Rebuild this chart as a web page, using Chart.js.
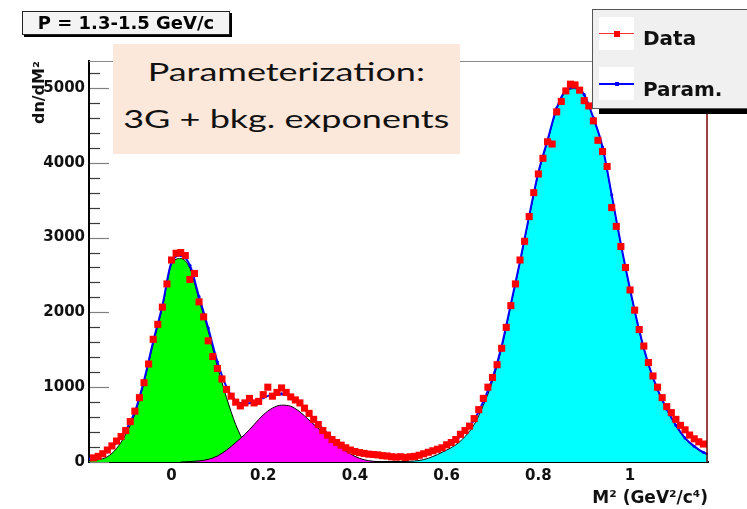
<!DOCTYPE html>
<html>
<head>
<meta charset="utf-8">
<script src="https://cdn.jsdelivr.net/npm/chart.js@4.4.0/dist/chart.umd.min.js"></script>
<style>
  html, body { margin: 0; padding: 0; background: #fff; }
  #wrap { position: relative; width: 747px; height: 509px; overflow: hidden; }
  #massChart { position: absolute; left: 0; top: 0; }
  #momentum {
    position: absolute; left: 22px; top: 11px; width: 206px; height: 22px;
    background: #f4f4f4; border: 1px solid #222; box-shadow: 2px 2px 0 #000;
    font: bold 18px "DejaVu Sans"; line-height: 22px; text-align: center; color: #000;
  }
  #note {
    position: absolute; left: 113px; top: 44px; width: 347px; height: 110px;
    background: #fce8da; text-align: center; color: #111;
    font: 25px Lato; line-height: 47px; padding-top: 4px; box-sizing: border-box;
  }
  #note span { display: inline-block; transform: scaleX(1.44); }
  #legend {
    position: absolute; left: 592px; top: 9px; width: 200px; height: 98px;
    background: #f0f0f0; border: 1px solid #555; box-shadow: 7px 5px 0 #000;
    font: bold 20px "DejaVu Sans"; color: #111;
  }
  .sym { position: absolute; left: 6px; width: 35px; height: 33px; background: #fff; }
  .sym .ln { position: absolute; left: 0; right: 0; }
  .sym .mk { position: absolute; }
  .lab { position: absolute; left: 50px; line-height: 24px; }
</style>
</head>
<body>
<div id="wrap">
  <canvas id="massChart" width="747" height="509"></canvas>
  <div id="momentum">P = 1.3-1.5 GeV/c</div>
  <div id="note"><span>Parameterization:</span><br><span>3G + bkg. exponents</span></div>
  <div id="legend">
    <div class="sym" style="top:7px"><div class="ln" style="top:16px;height:1px;background:#ff3030"></div><div class="mk" style="left:15px;top:14px;width:6px;height:6px;background:#f00"></div></div>
    <div class="lab" style="top:16px">Data</div>
    <div class="sym" style="top:57px"><div class="ln" style="top:16px;height:2px;background:#0000ff"></div><div class="mk" style="left:16px;top:15px;width:4px;height:4px;background:#0000ff"></div></div>
    <div class="lab" style="top:67px">Param.</div>
  </div>
</div>
<script>
// measured M^2 spectrum (counts per 0.01 GeV^2/c^4 bin)
const dataM2 = [
  -0.17, -0.16, -0.15, -0.14, -0.13, -0.12, -0.11, -0.10, -0.09, -0.08,
  -0.07, -0.06, -0.05, -0.04, -0.03, -0.02, -0.01, 0.00, 0.01, 0.02,
  0.03, 0.04, 0.05, 0.06, 0.07, 0.08, 0.09, 0.10, 0.11, 0.12,
  0.13, 0.14, 0.15, 0.16, 0.17, 0.18, 0.19, 0.20, 0.21, 0.22,
  0.23, 0.24, 0.25, 0.26, 0.27, 0.28, 0.29, 0.30, 0.31, 0.32,
  0.33, 0.34, 0.35, 0.36, 0.37, 0.38, 0.39, 0.40, 0.41, 0.42,
  0.43, 0.44, 0.45, 0.46, 0.47, 0.48, 0.49, 0.50, 0.51, 0.52,
  0.53, 0.54, 0.55, 0.56, 0.57, 0.58, 0.59, 0.60, 0.61, 0.62,
  0.63, 0.64, 0.65, 0.66, 0.67, 0.68, 0.69, 0.70, 0.71, 0.72,
  0.73, 0.74, 0.75, 0.76, 0.77, 0.78, 0.79, 0.80, 0.81, 0.82,
  0.83, 0.84, 0.85, 0.86, 0.87, 0.88, 0.89, 0.90, 0.91, 0.92,
  0.93, 0.94, 0.95, 0.96, 0.97, 0.98, 0.99, 1.00, 1.01, 1.02,
  1.03, 1.04, 1.05, 1.06, 1.07, 1.08, 1.09, 1.10, 1.11, 1.12,
  1.13, 1.14, 1.15, 1.16
];
const dataCounts = [
  55, 75, 110, 160, 215, 280, 340, 420, 540, 680,
  860, 1060, 1310, 1640, 1840, 2070, 2380, 2700, 2790, 2800,
  2760, 2440, 2520, 2140, 1940, 1620, 1410, 1250, 1110, 970,
  880, 800, 750, 790, 850, 790, 810, 900, 1000, 880,
  930, 990, 930, 870, 830, 790, 720, 650, 570, 500,
  420, 360, 300, 260, 225, 190, 160, 140, 125, 115,
  105, 100, 95, 85, 80, 70, 65, 70, 60, 70,
  75, 90, 110, 130, 150, 170, 190, 230, 260, 300,
  370, 420, 480, 580, 700, 850, 1000, 1130, 1300, 1520,
  1800, 2090, 2380, 2700, 2950, 3280, 3600, 3850, 4060, 4280,
  4250, 4680, 4820, 4960, 5050, 5040, 4970, 4830, 4760, 4560,
  4300, 4150, 3950, 3400, 3150, 2880, 2600, 2300, 2030, 1770,
  1550, 1330, 1150, 1000, 860, 740, 660, 570, 490, 430,
  360, 310, 270, 240
];

// full parameterization (3 gaussians + background)
const paramM2 = [
  -0.18, -0.16, -0.14, -0.12, -0.10, -0.08, -0.06, -0.04, -0.02, 0.00,
  0.02, 0.04, 0.06, 0.08, 0.10, 0.12, 0.14, 0.16, 0.18, 0.20,
  0.22, 0.24, 0.26, 0.28, 0.30, 0.32, 0.34, 0.36, 0.38, 0.40,
  0.42, 0.44, 0.46, 0.48, 0.50, 0.52, 0.54, 0.56, 0.58, 0.60,
  0.62, 0.64, 0.66, 0.68, 0.70, 0.72, 0.74, 0.76, 0.78, 0.80,
  0.82, 0.84, 0.86, 0.88, 0.90, 0.92, 0.94, 0.96, 0.98, 1.00,
  1.02, 1.04, 1.06, 1.08, 1.10, 1.12, 1.14, 1.16, 1.18
];
const paramFit = [
  40, 70, 140, 260, 420, 670, 1090, 1610, 2090, 2670,
  2760, 2630, 2210, 1790, 1340, 1000, 820, 780, 800, 860,
  900, 910, 870, 770, 640, 510, 380, 270, 190, 130,
  100, 85, 75, 65, 65, 70, 85, 115, 160, 215,
  290, 400, 560, 810, 1120, 1550, 2110, 2680, 3290, 3870,
  4300, 4730, 4970, 5010, 4910, 4600, 4210, 3570, 2910, 2310,
  1760, 1310, 970, 710, 490, 320, 210, 130, 90
];

// single components
const pionM2 = [
  -0.18, -0.16, -0.14, -0.12, -0.10, -0.08, -0.06, -0.04, -0.02, 0.00,
  0.02, 0.04, 0.06, 0.08, 0.10, 0.12, 0.14, 0.16, 0.18, 0.20,
  0.22, 0.24, 0.26
];
const pionFit = [
  15, 30, 70, 180, 370, 640, 1060, 1580, 2060, 2640,
  2720, 2590, 2170, 1750, 1280, 860, 500, 250, 120, 60,
  25, 10, 0
];
const kaonM2 = [
  0.02, 0.04, 0.06, 0.08, 0.10, 0.12, 0.14, 0.16, 0.18, 0.20,
  0.22, 0.24, 0.26, 0.28, 0.30, 0.32, 0.34, 0.36, 0.38, 0.40,
  0.42, 0.44, 0.46
];
const kaonFit = [
  0, 5, 15, 35, 80, 160, 260, 370, 500, 630,
  720, 760, 745, 670, 560, 450, 340, 240, 150, 75,
  30, 10, 0
];
const protonM2 = [
  0.48, 0.50, 0.52, 0.54, 0.56, 0.58, 0.60, 0.62, 0.64, 0.66,
  0.68, 0.70, 0.72, 0.74, 0.76, 0.78, 0.80, 0.82, 0.84, 0.86,
  0.88, 0.90, 0.92, 0.94, 0.96, 0.98, 1.00, 1.02, 1.04, 1.06,
  1.08, 1.10, 1.12, 1.14, 1.16, 1.18
];
const protonFit = [
  0, 5, 10, 20, 50, 100, 160, 230, 340, 500,
  760, 1080, 1520, 2090, 2660, 3270, 3850, 4280, 4710, 4950,
  4990, 4900, 4590, 4200, 3560, 2900, 2300, 1750, 1300, 960,
  700, 480, 310, 200, 120, 80
];

// axis ticks
const xTickValues = [0, 0.2, 0.4, 0.6, 0.8, 1];
const yTickValues = [
  0, 200, 400, 600, 800, 1000, 1200, 1400, 1600, 1800,
  2000, 2200, 2400, 2600, 2800, 3000, 3200, 3400, 3600, 3800,
  4000, 4200, 4400, 4600, 4800, 5000, 5200
];
const yLabelValues = [0, 1000, 2000, 3000, 4000, 5000];

const xMin = -0.18, xMax = 1.17;
const yMax = 5360;

function points(xs, ys) {
  return xs.map((x, i) => ({ x: x, y: ys[i] }));
}

function component(data, color, order) {
  return {
    data: data,
    borderColor: '#000',
    borderWidth: 1,
    backgroundColor: color,
    fill: 'origin',
    pointRadius: 0,
    cubicInterpolationMode: 'monotone',
    order: order
  };
}

// inward tick marks on the y axis: long at labelled values, short otherwise
const yTickMarks = {
  id: 'yTickMarks',
  beforeDatasetsDraw(chart) {
    const scale = chart.scales.y;
    const left = chart.chartArea.left;
    const ctx = chart.ctx;
    ctx.save();
    ctx.lineWidth = 1.2;
    scale.ticks.forEach(t => {
      const major = yLabelValues.includes(t.value);
      const py = Math.round(scale.getPixelForValue(t.value)) + 0.5;
      ctx.strokeStyle = major ? '#808080' : '#3a3a3a';
      ctx.beginPath();
      ctx.moveTo(left + 1, py);
      ctx.lineTo(left + (major ? 20 : 11), py);
      ctx.stroke();
    });
    ctx.restore();
  }
};

// thin frame: grey top edge, dark red right edge
const frame = {
  id: 'frame',
  afterDatasetsDraw(chart) {
    const a = chart.chartArea;
    const ctx = chart.ctx;
    ctx.save();
    ctx.strokeStyle = '#8a8a8a';
    ctx.lineWidth = 1;
    ctx.beginPath();
    ctx.moveTo(a.left, a.top + 0.5);
    ctx.lineTo(a.right, a.top + 0.5);
    ctx.stroke();
    ctx.strokeStyle = '#7a0000';
    ctx.lineWidth = 1.5;
    ctx.beginPath();
    ctx.moveTo(a.right - 1, a.top);
    ctx.lineTo(a.right - 1, a.bottom);
    ctx.stroke();
    ctx.restore();
  }
};

Chart.defaults.font.family = '"DejaVu Sans", sans-serif';
Chart.defaults.color = '#111';

new Chart(document.getElementById('massChart'), {
  type: 'line',
  data: {
    datasets: [
      {
        label: 'Data',
        data: points(dataM2, dataCounts),
        showLine: false,
        pointStyle: 'rect',
        pointRadius: 5,
        pointBorderWidth: 0,
        pointBackgroundColor: '#ff0000',
        borderColor: '#ff0000',
        order: 0
      },
      {
        label: 'Param.',
        data: points(paramM2, paramFit),
        borderColor: '#0000ff',
        borderWidth: 2,
        pointRadius: 1.6,
        pointBorderWidth: 0,
        pointBackgroundColor: '#0000ff',
        cubicInterpolationMode: 'monotone',
        fill: false,
        order: 1
      },
      component(points(protonM2, protonFit), '#00ffff', 2),
      component(points(kaonM2, kaonFit), '#ff00ff', 3),
      component(points(pionM2, pionFit), '#00ff00', 4)
    ]
  },
  options: {
    responsive: false,
    animation: false,
    layout: { padding: { left: 0, top: 61, right: 39, bottom: 0 } },
    plugins: { legend: { display: false }, tooltip: { enabled: false } },
    scales: {
      x: {
        type: 'linear',
        min: xMin,
        max: xMax,
        grid: { display: false, drawTicks: false },
        border: { color: '#000', width: 2 },
        afterBuildTicks: s => { s.ticks = xTickValues.map(v => ({ value: v })); },
        ticks: {
          autoSkip: false,
          padding: 5,
          font: { size: 15, weight: 'bold' },
          callback: v => String(v)
        },
        title: {
          display: true,
          text: 'M² (GeV²/c⁴)',
          align: 'end',
          font: { size: 17, weight: 'bold' },
          padding: { top: 3, bottom: 0 }
        },
        afterFit: s => { s.height = 47; }
      },
      y: {
        type: 'linear',
        min: 0,
        max: yMax,
        grid: { display: false, drawTicks: false },
        border: { color: '#000', width: 2 },
        afterBuildTicks: s => { s.ticks = yTickValues.map(v => ({ value: v })); },
        ticks: {
          autoSkip: false,
          padding: 4,
          font: { size: 15, weight: 'bold' },
          callback: v => (yLabelValues.includes(v) ? String(v) : '')
        },
        title: {
          display: true,
          text: 'dn/dM²',
          align: 'end',
          font: { size: 16, weight: 'bold' },
          padding: { top: 30, bottom: 0 }
        },
        afterFit: s => { s.width = 89; }
      }
    }
  },
  plugins: [yTickMarks, frame]
});
</script>
</body>
</html>
